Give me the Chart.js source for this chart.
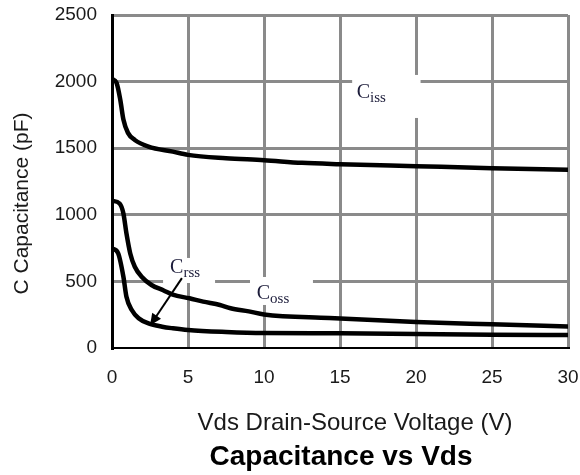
<!DOCTYPE html>
<html>
<head>
<meta charset="utf-8">
<script src="https://cdn.jsdelivr.net/npm/chart.js@4/dist/chart.umd.min.js"></script>
<style>
  html, body { margin: 0; padding: 0; background: #fff; }
  #wrap { width: 580px; height: 475px; position: relative; }
  canvas { display: block; }
</style>
</head>
<body>
<div id="wrap"><canvas id="c" width="580" height="475"></canvas></div>
<script>
// Drain-source voltage (V) and capacitances (pF)
const cissVds = [0, 0.3, 0.55, 0.75, 1.05, 1.5, 2.4, 4, 5, 7.5, 10, 12.5, 15, 20, 25, 30];
const cissPf  = [2020, 1990, 1860, 1715, 1615, 1562, 1512, 1474, 1450, 1425, 1410, 1390, 1380, 1365, 1350, 1338];

const cossVds = [0, 0.5, 0.75, 0.95, 1.2, 1.5, 1.95, 2.6, 3.4, 4, 5.1, 6, 7.1, 7.8, 9, 10, 14.3, 20, 25, 30];
const cossPf  = [1105, 1085, 1010, 860, 710, 610, 535, 473, 432, 400, 373, 348, 323, 298, 275, 252, 225, 195, 178, 162];

const crssVds = [0, 0.4, 0.75, 0.95, 1.3, 1.75, 2.4, 3.3, 4, 5, 7.5, 10, 15, 20, 25, 30];
const crssPf  = [748, 712, 535, 385, 285, 223, 185, 160, 148, 135, 120, 112, 110, 105, 100, 98];

const xTicks = [0, 5, 10, 15, 20, 25, 30];
const yTicks = [0, 500, 1000, 1500, 2000, 2500];

// Curve labels: main letter, subscript, anchor (V, pF) and the blank box behind them
const curveLabels = [
  { main: 'C', sub: 'iss', at: [16.1, 1875], box: [15.8, 20.3, 2050, 1727] },
  { main: 'C', sub: 'rss', at: [3.82, 561],  box: [3.36, 6.78, 676, 488] },
  { main: 'C', sub: 'oss', at: [9.52, 366],  box: [9.08, 13.22, 533, 323] }
];
// Pointer from the Crss label to its curve (V, pF)
const crssArrow = { from: [4.6, 525], to: [2.5, 168] };

const SANS = '"Liberation Sans", Arial, sans-serif';
const SERIF = '"Liberation Serif", "Times New Roman", serif';

const toPoints = (xs, ys) => xs.map((x, i) => ({ x, y: ys[i] }));

const annotations = {
  id: 'annotations',
  beforeDatasetsDraw(chart) {
    const { ctx, scales: { x, y } } = chart;
    ctx.save();
    ctx.fillStyle = '#ffffff';
    curveLabels.forEach(l => {
      const [x0, x1, y0, y1] = l.box;
      const px0 = x.getPixelForValue(x0), px1 = x.getPixelForValue(x1);
      const py0 = y.getPixelForValue(y0), py1 = y.getPixelForValue(y1);
      ctx.fillRect(px0, py0, px1 - px0, py1 - py0);
    });
    ctx.restore();
  },
  afterDatasetsDraw(chart) {
    const { ctx, scales: { x, y } } = chart;
    ctx.save();
    ctx.fillStyle = '#1c1c3a';
    ctx.textBaseline = 'alphabetic';
    ctx.textAlign = 'left';
    curveLabels.forEach(l => {
      const px = x.getPixelForValue(l.at[0]);
      const py = y.getPixelForValue(l.at[1]);
      ctx.font = '20px ' + SERIF;
      ctx.fillText(l.main, px, py);
      const w = ctx.measureText(l.main).width;
      ctx.font = '15px ' + SERIF;
      ctx.fillText(l.sub, px + w, py + 4);
    });

    // arrow
    const ax0 = x.getPixelForValue(crssArrow.from[0]), ay0 = y.getPixelForValue(crssArrow.from[1]);
    const ax1 = x.getPixelForValue(crssArrow.to[0]),   ay1 = y.getPixelForValue(crssArrow.to[1]);
    const ang = Math.atan2(ay1 - ay0, ax1 - ax0);
    const head = 13, spread = 0.42;
    ctx.strokeStyle = '#000';
    ctx.lineWidth = 2;
    ctx.beginPath();
    ctx.moveTo(ax0, ay0);
    ctx.lineTo(ax1 - Math.cos(ang) * head * 0.8, ay1 - Math.sin(ang) * head * 0.8);
    ctx.stroke();
    ctx.fillStyle = '#000';
    ctx.beginPath();
    ctx.moveTo(ax1, ay1);
    ctx.lineTo(ax1 - head * Math.cos(ang - spread), ay1 - head * Math.sin(ang - spread));
    ctx.lineTo(ax1 - head * Math.cos(ang + spread), ay1 - head * Math.sin(ang + spread));
    ctx.closePath();
    ctx.fill();
    ctx.restore();
  },
  afterDraw(chart) {
    const { ctx, chartArea } = chart;
    ctx.save();
    ctx.fillStyle = '#1a1a1a';
    ctx.textAlign = 'center';
    ctx.textBaseline = 'alphabetic';
    ctx.font = '24px ' + SANS;
    ctx.fillText('Vds Drain-Source Voltage (V)', 355, 430);
    ctx.fillStyle = '#000';
    ctx.font = 'bold 28px ' + SANS;
    ctx.fillText('Capacitance vs Vds', 341, 465);

    ctx.fillStyle = '#1a1a1a';
    ctx.font = '21px ' + SANS;
    ctx.translate(22, (chartArea.top + chartArea.bottom) / 2 + 22);
    ctx.rotate(-Math.PI / 2);
    ctx.textBaseline = 'middle';
    ctx.fillText('C Capacitance (pF)', 0, 0);
    ctx.restore();
  }
};

const lineStyle = {
  borderColor: '#000',
  borderWidth: 4.5,
  pointRadius: 0,
  fill: false,
  cubicInterpolationMode: 'monotone',
  borderCapStyle: 'round',
  borderJoinStyle: 'round'
};

new Chart(document.getElementById('c'), {
  type: 'line',
  data: {
    datasets: [
      Object.assign({ label: 'Ciss', data: toPoints(cissVds, cissPf) }, lineStyle),
      Object.assign({ label: 'Coss', data: toPoints(cossVds, cossPf) }, lineStyle),
      Object.assign({ label: 'Crss', data: toPoints(crssVds, crssPf) }, lineStyle)
    ]
  },
  options: {
    responsive: false,
    maintainAspectRatio: false,
    animation: false,
    devicePixelRatio: 1,
    layout: { padding: { top: 15, right: 12, left: 0, bottom: 0 } },
    plugins: { legend: { display: false }, tooltip: { enabled: false } },
    scales: {
      x: {
        type: 'linear',
        min: xTicks[0],
        max: xTicks[xTicks.length - 1],
        afterBuildTicks: s => { s.ticks = xTicks.map(v => ({ value: v })); },
        afterFit: s => { s.height = 127; s.paddingLeft = 0; s.paddingRight = 0; },
        grid: {
          color: c => (c.tick && c.tick.value === 0 ? 'rgba(0,0,0,0)' : '#8a8a8a'),
          lineWidth: 3,
          drawTicks: false
        },
        border: { color: '#000', width: 2 },
        ticks: {
          padding: 18,
          color: '#1a1a1a',
          font: { family: SANS, size: 19 },
          maxRotation: 0,
          callback: v => String(v)
        }
      },
      y: {
        type: 'linear',
        min: yTicks[0],
        max: yTicks[yTicks.length - 1],
        afterBuildTicks: s => { s.ticks = yTicks.map(v => ({ value: v })); },
        afterFit: s => { s.width = 112; s.paddingTop = 0; s.paddingBottom = 0; },
        grid: {
          color: c => (c.tick && c.tick.value === 0 ? 'rgba(0,0,0,0)' : '#8a8a8a'),
          lineWidth: 3,
          drawTicks: false
        },
        border: { color: '#000', width: 3 },
        ticks: {
          padding: 15,
          color: '#1a1a1a',
          font: { family: SANS, size: 19 },
          callback: v => String(v)
        }
      }
    }
  },
  plugins: [annotations]
});
</script>
</body>
</html>
